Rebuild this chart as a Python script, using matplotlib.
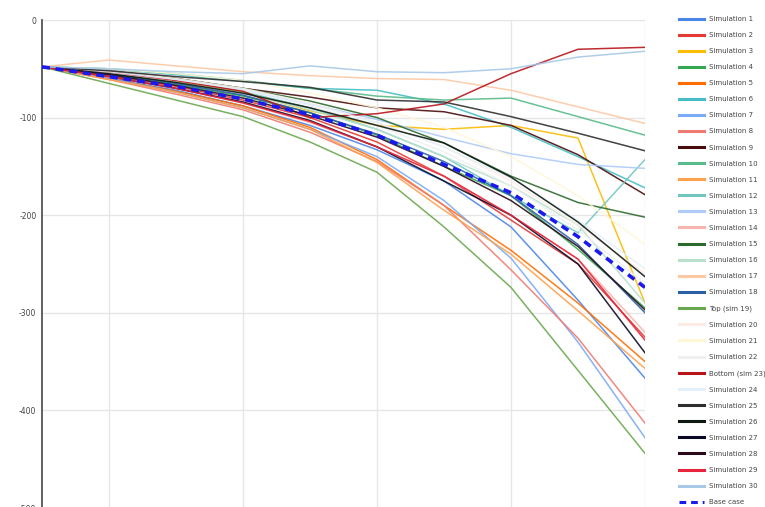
import matplotlib
matplotlib.use("Agg")
import matplotlib.pyplot as plt
from matplotlib.lines import Line2D

x_points = list(range(10))

labels = ["Simulation 1", "Simulation 2", "Simulation 3", "Simulation 4", "Simulation 5",
          "Simulation 6", "Simulation 7", "Simulation 8", "Simulation 9", "Simulation 10",
          "Simulation 11", "Simulation 12", "Simulation 13", "Simulation 14", "Simulation 15",
          "Simulation 16", "Simulation 17", "Simulation 18", "Top (sim 19)", "Simulation 20",
          "Simulation 21", "Simulation 22", "Bottom (sim 23)", "Simulation 24", "Simulation 25",
          "Simulation 26", "Simulation 27", "Simulation 28", "Simulation 29", "Simulation 30"]

sim_1 = [-48, -60, -72, -88, -108, -133, -165, -212, -287, -367]
sim_2 = [-48, -57, -68, -82, -100, -125, -160, -205, -250, -325]
sim_3 = [-48, -55, -63, -74, -93, -108, -112, -108, -121, -290]
sim_4 = [-48, -56, -66, -78, -95, -118, -150, -180, -235, -295]
sim_5 = [-48, -60, -73, -88, -110, -143, -190, -236, -290, -350]
sim_6 = [-48, -50, -56, -63, -70, -72, -86, -110, -140, -172]
sim_7 = [-48, -60, -74, -90, -112, -140, -185, -244, -330, -428]
sim_8 = [-48, -61, -76, -92, -115, -145, -190, -256, -326, -413]
sim_9 = [-48, -52, -60, -70, -79, -90, -94, -108, -138, -179]
sim_10 = [-48, -50, -55, -62, -70, -78, -82, -80, -99, -118]
sim_11 = [-48, -61, -74, -90, -112, -146, -195, -240, -298, -357]
sim_12 = [-48, -54, -62, -73, -90, -112, -140, -180, -218, -143]
sim_13 = [-48, -53, -62, -72, -86, -102, -120, -137, -148, -152]
sim_14 = [-48, -58, -70, -85, -105, -130, -160, -200, -245, -320]
sim_15 = [-48, -53, -60, -70, -83, -100, -126, -160, -187, -202]
sim_16 = [-48, -55, -64, -75, -92, -112, -140, -170, -210, -290]
sim_17 = [-48, -41, -47, -53, -57, -60, -61, -72, -89, -106]
sim_18 = [-48, -55, -65, -77, -95, -117, -145, -180, -230, -300]
sim_19 = [-48, -65, -82, -99, -125, -156, -212, -274, -359, -444]
sim_20 = [-48, -52, -60, -70, -85, -105, -130, -165, -210, -260]
sim_21 = [-48, -50, -55, -62, -75, -90, -110, -140, -180, -230]
sim_22 = [-48, -54, -62, -72, -88, -108, -135, -170, -215, -270]
sim_23 = [-48, -53, -62, -73, -100, -96, -86, -55, -30, -28]
sim_24 = [-48, -53, -61, -71, -86, -105, -130, -162, -205, -255]
sim_25 = [-48, -52, -58, -63, -69, -82, -84, -99, -116, -134]
sim_26 = [-48, -55, -64, -75, -90, -108, -126, -161, -207, -263]
sim_27 = [-48, -58, -70, -84, -103, -130, -165, -200, -250, -341]
sim_28 = [-48, -56, -67, -80, -98, -120, -150, -185, -232, -297]
sim_29 = [-48, -58, -70, -85, -104, -130, -160, -200, -245, -328]
sim_30 = [-48, -50, -53, -55, -47, -53, -54, -50, -38, -32]
base_case = [-48, -58, -68, -81, -97, -118, -148, -177, -222, -274]

series = [sim_1, sim_2, sim_3, sim_4, sim_5, sim_6, sim_7, sim_8, sim_9, sim_10,
          sim_11, sim_12, sim_13, sim_14, sim_15, sim_16, sim_17, sim_18, sim_19, sim_20,
          sim_21, sim_22, sim_23, sim_24, sim_25, sim_26, sim_27, sim_28, sim_29, sim_30]

colors = ["#4a86e8", "#e53935", "#fbbc04", "#34a853", "#ff6d01",
          "#46bdc6", "#7baaf7", "#f07b72", "#4a0d0d", "#57bb8a",
          "#ffa04c", "#71c7c0", "#aecbfa", "#f7b5ad", "#2d6b2d",
          "#b7e1cd", "#fcc9a4", "#2a5fa6", "#6aa84f", "#fdece4",
          "#fff6d8", "#eef0f2", "#b7151b", "#e3f0fb", "#2e2e2e",
          "#0e1a12", "#0a0a26", "#2a0a1a", "#e6243c", "#a8c8e8"]

base_color = "#1a1aee"
y_ticks = [0, -100, -200, -300, -400, -500]
x_grid = [1, 3, 5, 7, 9]

fig = plt.figure(figsize=(7.65, 5.07), dpi=100)
ax = fig.add_axes([42 / 765, -1 / 507, 603 / 765, 488 / 507])

for vals, col in zip(series, colors):
    ax.plot(x_points, vals, color=col, lw=1.1, alpha=0.9, zorder=2)
ax.plot(x_points, base_case, color=base_color, lw=2.6, ls=(0, (2.2, 1.6)), zorder=3)

ax.set_xlim(0, 9)
ax.set_ylim(-500, 0)
ax.set_yticks(y_ticks)
ax.set_yticklabels([str(v) for v in y_ticks], fontsize=5.5, color="#444444")
ax.set_xticks(x_grid)
ax.set_xticklabels([])
ax.tick_params(axis="both", length=0, pad=4)
ax.grid(True, color="#e6e6e6", lw=1.0, zorder=0)
ax.set_axisbelow(True)
for side in ["top", "right", "bottom"]:
    ax.spines[side].set_visible(False)
ax.spines["left"].set_color("#555555")
ax.spines["left"].set_linewidth(1.3)

handles = [Line2D([], [], color=c, lw=2.2) for c in colors]
handles.append(Line2D([], [], color=base_color, lw=2.2, ls=(0, (2.2, 1.6))))
leg_labels = labels + ["Base case"]
fig.legend(handles, leg_labels, loc="upper left",
           bbox_to_anchor=(679 / 765, 1 - 16 / 507), frameon=False,
           fontsize=5.0, labelspacing=1.45, handlelength=3.6,
           handletextpad=0.75, borderpad=0, borderaxespad=0,
           labelcolor="#444444")

fig.savefig("out.png", dpi=100)
